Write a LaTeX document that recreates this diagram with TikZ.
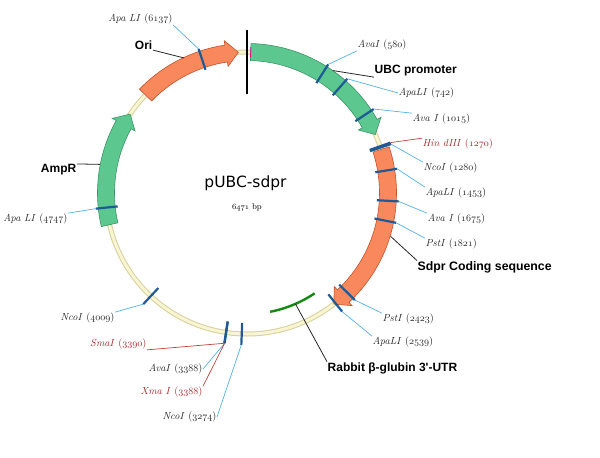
\documentclass[tikz,border=0pt]{standalone}
\usepackage{fontspec}
\newfontfamily\featfont{Liberation Sans}
\newfontfamily\titlefont{DejaVu Sans}
\definecolor{bbedge}{HTML}{D6D09C}
\definecolor{bbfill}{HTML}{F7F5D2}
\definecolor{grnfill}{HTML}{5DC790}
\definecolor{grnedge}{HTML}{3A9466}
\definecolor{orgfill}{HTML}{F9895C}
\definecolor{orgedge}{HTML}{C2522C}
\definecolor{sitecol}{HTML}{1F5A96}
\definecolor{leadblue}{HTML}{55B2E4}
\definecolor{leadred}{HTML}{C0403A}
\definecolor{enzred}{HTML}{A52A2A}
\definecolor{utrgreen}{HTML}{148A14}
\newcommand\osnum[1]{{\usefont{OML}{cmm}{m}{it}#1}}
\newcommand\enz[2]{\textit{#1} (\osnum{#2})}
\newcommand\featarrow[3]{%
  \pgfmathsetmacro\hb{#2-5}
  \draw[#3] (#1:132.5) arc[start angle=#1,end angle=\hb,radius=132.5]
    -- (\hb:128) -- (#2:141) -- (\hb:154) -- (\hb:149.5)
    arc[start angle=\hb,end angle=#1,radius=149.5] -- cycle;}
\begin{document}
\begin{tikzpicture}[x=1pt,y=-1pt,
    greenfeat/.style={fill=grnfill,draw=grnedge,line width=0.6pt},
    orangefeat/.style={fill=orgfill,draw=orgedge,line width=0.6pt},
    site/.style={draw=sitecol,line width=2.2pt},
    lead/.style={draw=leadblue,line width=0.7pt},
    redlead/.style={draw=leadred,line width=0.7pt},
    featlead/.style={draw=black!85,line width=0.8pt},
    enzlab/.style={font=\fontsize{10.3}{11}\selectfont,text=black!85,inner sep=0.5pt},
    redlab/.style={enzlab,text=enzred},
    featlab/.style={font=\featfont\bfseries\fontsize{12}{14}\selectfont,inner sep=0.5pt}]
  \useasboundingbox (0,0) rectangle (600,458);
  \begin{scope}[shift={(247,193)}]
    % backbone
    \draw[bbedge,line width=5pt] (0,0) circle (141);
    \draw[bbfill,line width=3pt] (0,0) circle (141);
    % features
    \featarrow{-88.5}{-24.5}{greenfeat}
    \featarrow{-18}{52}{orangefeat}
    \featarrow{167}{214}{greenfeat}
    \featarrow{224}{266.5}{orangefeat}
    \draw[magenta,line width=0.8pt] (-88.5:136) -- (-88.5:146);
    \draw[black,line width=1.3pt] (-90:163) -- (-90:99);
    \draw[utrgreen,line width=2.4pt] (56:121) arc[start angle=56,end angle=79,radius=121];
    % restriction sites
    \foreach \p in {580,742,1015,1270,1280,1453,1675,1821,2423,2539,3274,3388,3390,4009,4747,6137} {
      \pgfmathsetmacro\t{-90+\p/6471*360}
      \draw[site] (\t:130) coordinate (s\p i) -- (\t:152) coordinate (s\p o);
    }
    \coordinate (ori) at (245:149);
    \coordinate (ubc) at (-55:149.5);
    \coordinate (sdpr) at (16.8:150);
    \coordinate (amp) at (191:150);
    \coordinate (utr) at (66.4:121);
  \end{scope}

  \node[font=\titlefont\fontsize{15.5}{18}\selectfont] (name) at (245.5,183) {pUBC-sdpr};
  \node[font=\fontsize{8.5}{9}\selectfont] (size) at (247,207) {\osnum{6471} bp};

  % feature labels
  \node[featlab,anchor=east] (tori) at (153,45) {Ori};
  \node[featlab,anchor=west] (tubc) at (374,71) {UBC promoter};
  \node[featlab,anchor=west,font=\featfont\bfseries\fontsize{12.3}{14}\selectfont] (tsdpr) at (417,267) {Sdpr Coding sequence};
  \node[featlab,anchor=east] (tamp) at (77,170) {AmpR};
  \node[featlab,anchor=west] (tutr) at (327,368) {Rabbit β-glubin 3'-UTR};
  \draw[featlead] (ori) -- (tori.south east);
  \draw[featlead] (ubc) -- (tubc.south west);
  \draw[featlead] (sdpr) -- (tsdpr.north west);
  \draw[featlead] (amp) -- (tamp.north east);
  \draw[featlead] (utr) -- (tutr.north west);

  % enzyme labels
  \node[enzlab,anchor=west] (l580) at (357,45) {\enz{AvaI}{580}};
  \node[enzlab,anchor=west] (l742) at (398,93) {\enz{ApaLI}{742}};
  \node[enzlab,anchor=west] (l1015) at (412,119) {\enz{Ava I}{1015}};
  \node[redlab,anchor=west] (l1270) at (422,144) {\enz{Hin dIII}{1270}};
  \node[enzlab,anchor=west] (l1280) at (423,168) {\enz{NcoI}{1280}};
  \node[enzlab,anchor=west] (l1453) at (425,193) {\enz{ApaLI}{1453}};
  \node[enzlab,anchor=west] (l1675) at (427,219) {\enz{Ava I}{1675}};
  \node[enzlab,anchor=west] (l1821) at (425,244) {\enz{PstI}{1821}};
  \node[enzlab,anchor=west] (l2423) at (382,319) {\enz{PstI}{2423}};
  \node[enzlab,anchor=west] (l2539) at (372,342) {\enz{ApaLI}{2539}};
  \node[enzlab,anchor=east] (l3274) at (217,417) {\enz{NcoI}{3274}};
  \node[redlab,anchor=east] (l3390) at (147,344) {\enz{SmaI}{3390}};
  \node[enzlab,anchor=east] (l3388) at (203,369) {\enz{AvaI}{3388}};
  \node[redlab,anchor=east] (x3388) at (203,392) {\enz{Xma I}{3388}};
  \node[enzlab,anchor=east] (l4009) at (115,318) {\enz{NcoI}{4009}};
  \node[enzlab,anchor=east] (l4747) at (68,219) {\enz{Apa LI}{4747}};
  \node[enzlab,anchor=east] (l6137) at (173,19) {\enz{Apa LI}{6137}};

  \draw[lead] (s580o) -- (l580.south west);
  \draw[lead] (s742o) -- (l742.west);
  \draw[lead] (s1015o) -- (l1015.north west);
  \draw[redlead] (s1270o) -- (l1270.north west);
  \draw[lead] (s1280o) -- (l1280.north west);
  \draw[lead] (s1453o) -- (l1453.north west);
  \draw[lead] (s1675o) -- (l1675.north west);
  \draw[lead] (s1821o) -- (l1821.north west);
  \draw[lead] (s2423o) -- (l2423.north west);
  \draw[lead] (s2539o) -- (l2539.north west);
  \draw[lead] (s3274o) -- (l3274.east);
  \draw[redlead] (s3390o) -- (l3390.south east);
  \draw[lead] (s3388o) -- (l3388.east);
  \draw[redlead] (s3388o) -- (x3388.north east);
  \draw[lead] (s4009o) -- (l4009.north east);
  \draw[lead] (s4747o) -- (l4747.north east);
  \draw[lead] (s6137o) -- (l6137.south east);
\end{tikzpicture}
\end{document}
